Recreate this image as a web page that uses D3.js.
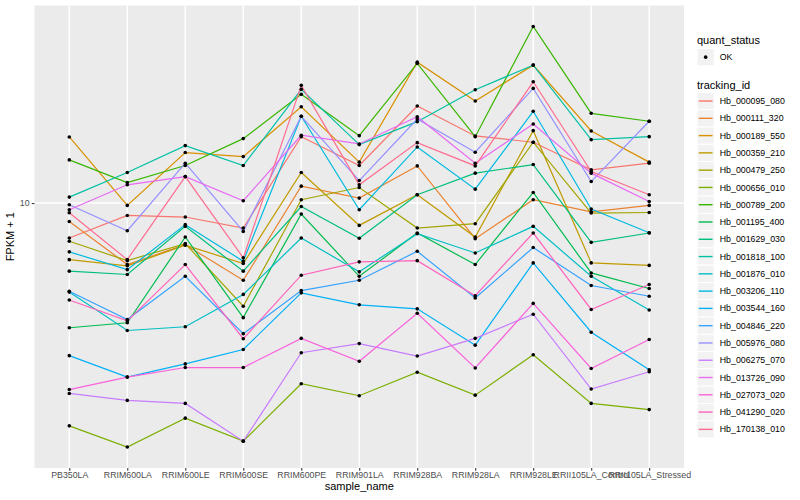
<!DOCTYPE html>
<html><head><meta charset="utf-8">
<script src="https://cdn.jsdelivr.net/npm/d3@7"></script>
<style>
body{margin:0;background:#fff}
text{font-family:"Liberation Sans",Arial,Helvetica,sans-serif}
</style>
</head><body>
<svg id="chart" width="800" height="500"></svg>
<script>
// ---------- data ----------
const samples = ["PB350LA","RRIM600LA","RRIM600LE","RRIM600SE","RRIM600PE","RRIM901LA","RRIM928BA","RRIM928LA","RRIM928LE","RRII105LA_Control","RRII105LA_Stressed"];
const trackingIds = ["Hb_000095_080","Hb_000111_320","Hb_000189_550","Hb_000359_210","Hb_000479_250","Hb_000656_010","Hb_000789_200","Hb_001195_400","Hb_001629_030","Hb_001818_100","Hb_001876_010","Hb_003206_110","Hb_003544_160","Hb_004846_220","Hb_005976_080","Hb_006275_070","Hb_013726_090","Hb_027073_020","Hb_041290_020","Hb_170138_010"];
const seriesColors = ["#F8766D","#EA8331","#D89000","#C09B00","#A3A500","#7CAE00","#39B600","#00BB4E","#00BF7D","#00C1A3","#00BFC4","#00BAE0","#00B0F6","#35A2FF","#9590FF","#C77CFF","#E76BF3","#FA62DB","#FF62BC","#FF6C90"];

const hb000095 = [7.64, 9.09, 8.98, 8.25, 16.67, 13.35, 21.10, 16.76, 15.97, 12.91, 13.59];
const hb000111 = [8.68, 6.23, 7.26, 5.52, 11.39, 10.39, 13.31, 7.60, 10.26, 9.35, 9.82];
const hb000189 = [16.63, 9.82, 14.75, 14.30, 20.99, 13.70, 29.58, 21.93, 28.91, 17.42, 13.70];
const hb000359 = [6.47, 6.17, 7.23, 6.28, 12.65, 8.42, 10.66, 7.70, 17.46, 6.31, 6.19];
const hb000479 = [7.45, 6.42, 7.32, 4.52, 10.26, 11.27, 8.25, 8.53, 15.97, 9.26, 9.30];
const hb000656 = [1.80, 1.53, 1.91, 1.60, 2.49, 2.27, 2.72, 2.28, 3.11, 2.14, 2.04];
const hb000789 = [13.94, 11.71, 13.35, 16.42, 23.09, 16.80, 29.29, 16.67, 38.91, 19.95, 18.77];
const hb001195 = [3.83, 3.98, 7.70, 4.14, 9.19, 5.69, 7.94, 6.23, 10.85, 5.84, 5.18];
const hb001629 = [5.92, 5.77, 8.36, 5.92, 9.74, 7.63, 10.66, 12.59, 13.45, 7.39, 7.94];
const hb001818 = [10.47, 12.65, 15.56, 13.35, 23.99, 15.68, 18.71, 23.92, 28.91, 16.29, 16.67];
const hb001876 = [5.04, 3.75, 3.86, 4.95, 7.64, 5.89, 7.90, 6.81, 8.36, 5.69, 4.39];
const hb003206 = [6.87, 5.99, 8.47, 6.39, 19.50, 9.50, 15.40, 11.13, 20.26, 9.55, 7.96];
const hb003544 = [3.09, 2.62, 2.90, 3.24, 5.01, 4.57, 4.43, 3.35, 6.31, 3.70, 2.77];
const hb004846 = [5.07, 4.08, 5.69, 3.66, 5.10, 5.52, 6.90, 4.82, 7.10, 5.30, 4.88];
const hb005976 = [9.87, 8.08, 13.59, 8.04, 19.50, 11.89, 19.10, 14.79, 24.17, 11.80, 18.77];
const hb006275 = [2.31, 2.19, 2.14, 1.60, 3.16, 3.39, 3.08, 3.53, 4.25, 2.39, 2.73];
const hb013726 = [9.50, 11.51, 12.26, 10.18, 16.85, 15.76, 19.44, 13.59, 18.38, 12.59, 10.12];
const hb027073 = [2.38, 2.62, 2.82, 2.82, 3.53, 2.96, 4.28, 2.81, 4.62, 2.80, 3.50];
const hb041290 = [4.74, 4.04, 6.23, 3.52, 5.74, 6.36, 6.42, 4.90, 7.94, 4.41, 5.34];
const hb170138 = [9.28, 6.47, 12.26, 6.56, 24.74, 11.51, 15.92, 13.31, 25.43, 12.75, 10.66];

const seriesValues = [hb000095,hb000111,hb000189,hb000359,hb000479,hb000656,hb000789,hb001195,hb001629,hb001818,hb001876,hb003206,hb003544,hb004846,hb005976,hb006275,hb013726,hb027073,hb041290,hb170138];
const yTicks = [10];
const yTickLabels = ["10"];
const statusLevels = ["OK"];

// ---------- layout ----------
const svg = d3.select("#chart");
const P = {left: 34.5, right: 684, top: 5.5, bottom: 468};

const x = d3.scalePoint().domain(samples).range([P.left, P.right]).padding(0.6);

const allVals = seriesValues.flat();
const lmin = Math.log10(d3.min(allVals)), lmax = Math.log10(d3.max(allVals));
const ex = (lmax - lmin) * 0.05;
const y = d3.scaleLog().domain([Math.pow(10, lmin - ex), Math.pow(10, lmax + ex)]).range([P.bottom, P.top]);

// panel
svg.append("rect").attr("x", P.left).attr("y", P.top)
  .attr("width", P.right - P.left).attr("height", P.bottom - P.top).attr("fill", "#EBEBEB");

// grid
const grid = svg.append("g");
grid.selectAll("line.gx").data(samples).join("line")
  .attr("x1", d => x(d)).attr("x2", d => x(d)).attr("y1", P.top).attr("y2", P.bottom)
  .attr("stroke", "#fff").attr("stroke-width", 1.4);
grid.selectAll("line.gy").data(yTicks).join("line")
  .attr("x1", P.left).attr("x2", P.right).attr("y1", d => y(d)).attr("y2", d => y(d))
  .attr("stroke", "#fff").attr("stroke-width", 1.4);

// lines
const line = d3.line().x((d, i) => x(samples[i])).y(d => y(d));
svg.append("g").selectAll("path").data(seriesValues).join("path")
  .attr("d", d => line(d)).attr("fill", "none")
  .attr("stroke", (d, i) => seriesColors[i]).attr("stroke-width", 1.2);

// points
const pts = [];
seriesValues.forEach(s => s.forEach((v, i) => pts.push([samples[i], v])));
svg.append("g").selectAll("circle").data(pts).join("circle")
  .attr("cx", d => x(d[0])).attr("cy", d => y(d[1])).attr("r", 1.8).attr("fill", "#000");

// axes
const xAxis = d3.axisBottom(x).tickSize(2.75).tickPadding(1.2);
const gx = svg.append("g").attr("transform", `translate(0,${P.bottom})`).call(xAxis);
gx.select(".domain").remove();
gx.selectAll(".tick line").attr("stroke", "#333333").attr("stroke-width", 1.05);
gx.selectAll(".tick text").attr("fill", "#4D4D4D").attr("font-size", 8.8)
  .attr("font-family", '"Liberation Sans",Arial,sans-serif');

const yAxis = d3.axisLeft(y).tickValues(yTicks).tickFormat((d, i) => yTickLabels[i]).tickSize(2.75).tickPadding(2.2);
const gy = svg.append("g").attr("transform", `translate(${P.left},0)`).call(yAxis);
gy.select(".domain").remove();
gy.selectAll(".tick line").attr("stroke", "#333333").attr("stroke-width", 1.05);
gy.selectAll(".tick text").attr("fill", "#4D4D4D").attr("font-size", 8.8)
  .attr("font-family", '"Liberation Sans",Arial,sans-serif');

// axis titles
svg.append("text").attr("x", (P.left + P.right) / 2).attr("y", 490)
  .attr("text-anchor", "middle").attr("font-size", 11).attr("fill", "#000").text("sample_name");
svg.append("text").attr("transform", `translate(13.5,${(P.top + P.bottom) / 2}) rotate(-90)`)
  .attr("text-anchor", "middle").attr("font-size", 11).attr("fill", "#000").text("FPKM + 1");

// legends
const LX = 697, K = 17.28;
const lg = svg.append("g");
lg.append("text").attr("x", LX).attr("y", 44).attr("font-size", 11).text("quant_status");
const sk = lg.selectAll("g.sk").data(statusLevels).join("g")
  .attr("transform", (d, i) => `translate(${LX},${48.5 + i * K})`);
sk.append("rect").attr("width", K).attr("height", K).attr("fill", "#F2F2F2").attr("stroke", "#fff");
sk.append("circle").attr("cx", K / 2).attr("cy", K / 2).attr("r", 1.8).attr("fill", "#000");
sk.append("text").attr("x", K + 5.5).attr("y", K / 2 + 3.1).attr("font-size", 8.8).text(d => d);

lg.append("text").attr("x", LX).attr("y", 89).attr("font-size", 11).text("tracking_id");
const tk = lg.selectAll("g.tk").data(trackingIds).join("g")
  .attr("transform", (d, i) => `translate(${LX},${92.4 + i * K})`);
tk.append("rect").attr("width", K).attr("height", K).attr("fill", "#F2F2F2").attr("stroke", "#fff");
tk.append("line").attr("x1", K * 0.1).attr("x2", K * 0.9).attr("y1", K / 2).attr("y2", K / 2)
  .attr("stroke", (d, i) => seriesColors[i]).attr("stroke-width", 1.4);
tk.append("text").attr("x", K + 5.5).attr("y", K / 2 + 3.1).attr("font-size", 8.8).text(d => d);
</script>
</body></html>
